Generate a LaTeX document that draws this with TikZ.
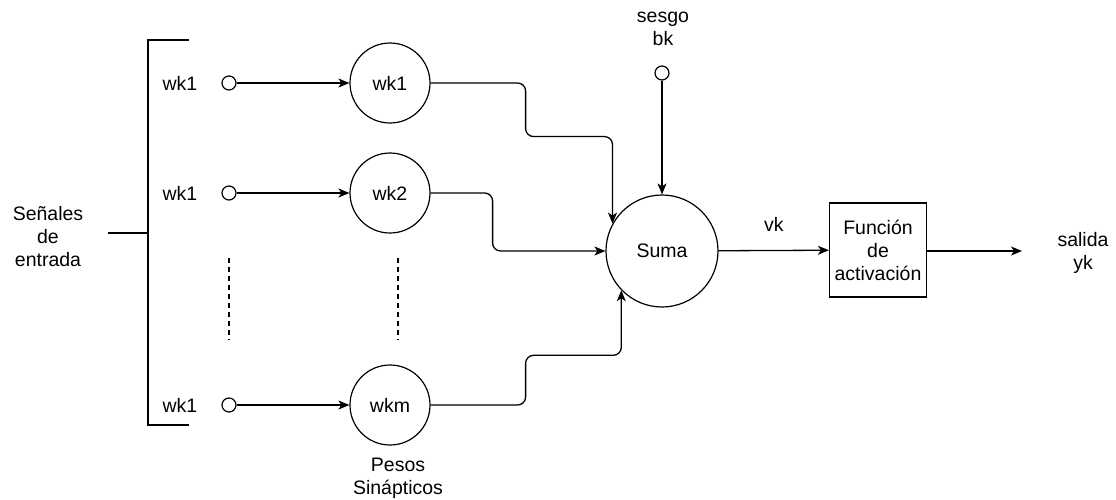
\documentclass[tikz,border=0pt]{standalone}
\usepackage{fontspec}
\setmainfont{Liberation Sans}
\usetikzlibrary{positioning, calc, arrows.meta}

\begin{document}
\begin{tikzpicture}[x=1pt, y=-1pt, font=\fontsize{19.5}{23}\selectfont,
	conn/.style={line width=1.3pt, -{Stealth[length=11pt,width=9pt,inset=3pt]}, rounded corners=8pt},
	weight/.style={draw, circle, line width=1.2pt, minimum size=80pt, inner sep=0pt},
	port/.style={draw, circle, line width=1.2pt, minimum size=14pt, inner sep=0pt},
	txt/.style={align=center, inner sep=0pt}]
			\useasboundingbox (0,0) rectangle (1116,499);
			% bracket of the input signals
			\draw [line width=2.8pt] (189,40) -- (148,40) -- (148,425) -- (189,425);
			\coordinate (brk) at (148,233);
			\coordinate (brkl) at (108,233);
			\draw [line width=2.8pt] (brkl) -- (brk);
			\node (sen) [txt] at (48,237) {Señales\\de\\entrada};
			
			\node (x1) [txt] at (180,83) {wk1};
			\node (x2) [txt] at (180,193) {wk1};
			\node (xm) [txt] at (180,405) {wk1};
			\node (in1) [port] at (229,83) {};
			\node (in2) [port] at (229,193) {};
			\node (inm) [port] at (229,405) {};
			\node (w1) [weight] at (390,83) {wk1};
			\node (w2) [weight] at (390,193) {wk2};
			\node (wm) [weight] at (390,405) {wkm};
			\node (pesos) [txt] at (398,478) {Pesos\\Sinápticos};
			\draw [conn] (in1) -- (w1);
			\draw [conn] (in2) -- (w2);
			\draw [conn] (inm) -- (wm);
			\draw [line width=1.2pt, dash pattern=on 4.5pt off 4.5pt] (229,258) -- (229,340);
			\draw [line width=1.2pt, dash pattern=on 4.5pt off 4.5pt] (398,258) -- (398,340);
			
			\node (suma) [weight, minimum size=112pt] at (662,251) {Suma};
			\node (bias) [port] at (662,73) {};
			\node (sesgo) [txt] at (663,29) {sesgo\\bk};
			\draw [conn] (bias) -- (suma.north);
			
			\draw [conn] (w1.east) -- ++(95,0) |- ([yshift=87pt]suma.151) -- (suma.151);
			\draw [conn] (w2.east) -- ++(62,0) |- (suma.west);
			\draw [conn] (wm.east) -- ++(95,0) |- ([yshift=-65pt]suma.224) -- (suma.224);
			
			\node (act) [draw, line width=1.2pt, minimum width=97pt, minimum height=94pt, txt] at (878,250) {Función\\de\\activación};
			\draw [conn] (suma) -- (act) node[midway, above=18pt, inner sep=0pt] {vk};
			\coordinate (out) at (1022,251);
			\draw [conn] (act.east |- out) -- (out);
			\node (sal) [txt] at (1083,253) {salida\\yk};
\end{tikzpicture}
\end{document}
